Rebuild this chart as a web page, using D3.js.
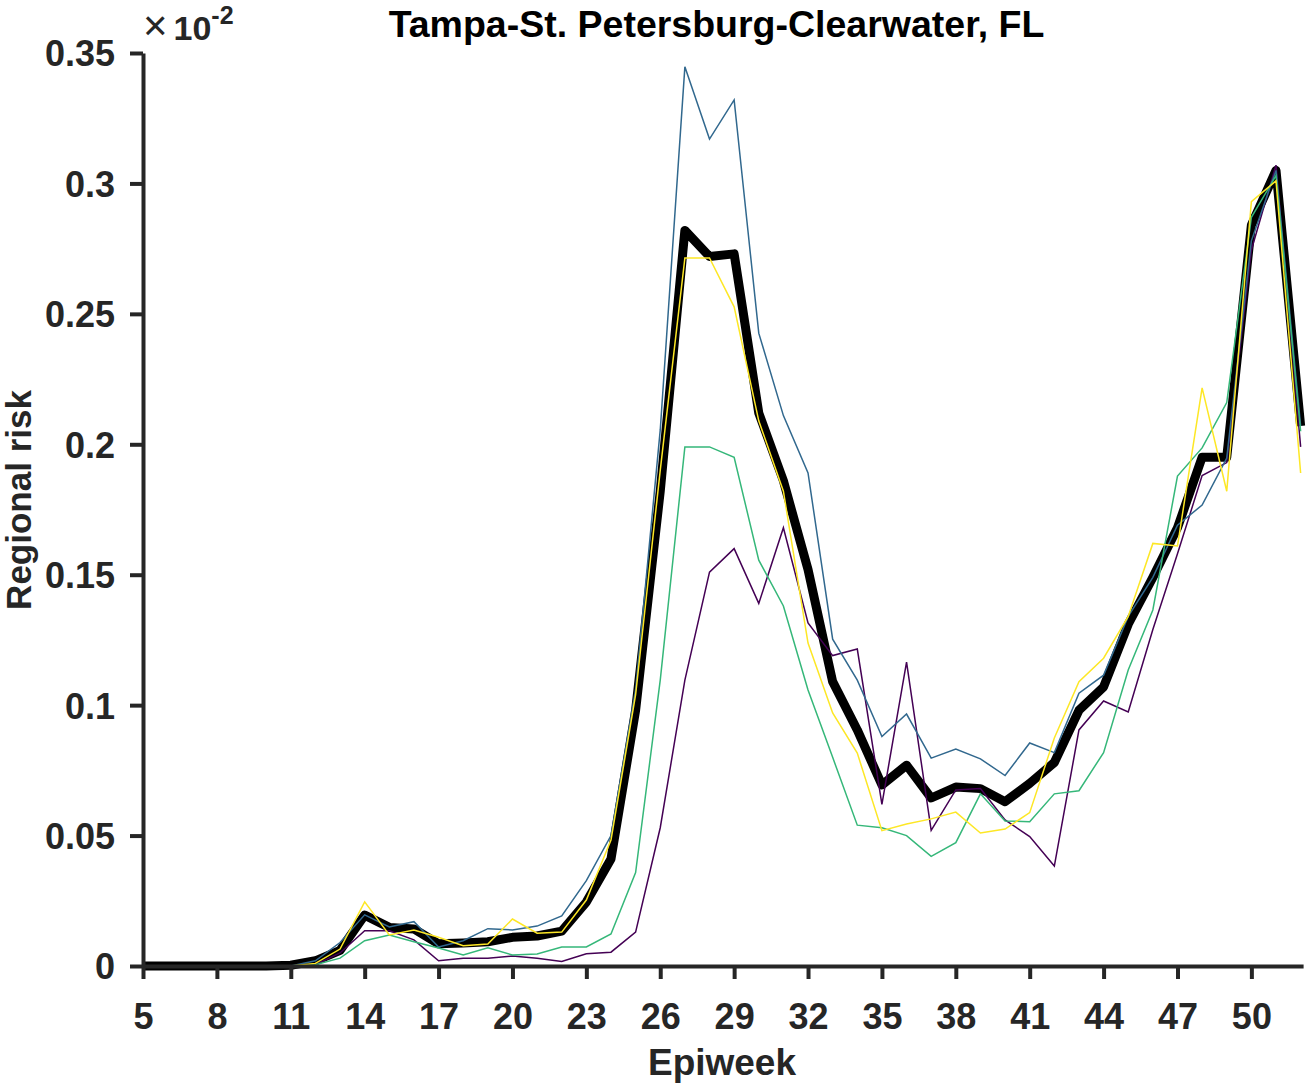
<!DOCTYPE html>
<html>
<head>
<meta charset="utf-8">
<script src="https://cdn.jsdelivr.net/npm/d3@7"></script>
<style>
  html, body { margin: 0; padding: 0; background: #fff; }
  svg { display: block; }
</style>
</head>
<body>
<svg id="chart" width="1307" height="1086"></svg>
<script>
// ---- data ----
const weeks = d3.range(5, 53); // epiweeks 5..52
const xTicks = [5, 8, 11, 14, 17, 20, 23, 26, 29, 32, 35, 38, 41, 44, 47, 50];
const yTicks = [0, 0.05, 0.1, 0.15, 0.2, 0.25, 0.3, 0.35];
const yTickLabels = ["0", "0.05", "0.1", "0.15", "0.2", "0.25", "0.3", "0.35"];

const seriesBlack = [0, 0, 0, 0, 0, 0, 0.0003, 0.002, 0.006, 0.0195, 0.0148, 0.0142, 0.0085, 0.0088, 0.0093, 0.011, 0.0115, 0.0134, 0.0245, 0.041, 0.098, 0.182, 0.282, 0.272, 0.273, 0.212, 0.186, 0.152, 0.109, 0.0905, 0.0694, 0.077, 0.0644, 0.0686, 0.068, 0.063, 0.070, 0.078, 0.098, 0.107, 0.131, 0.149, 0.168, 0.195, 0.195, 0.284, 0.305, 0.207];
const seriesPurple = [0, 0, 0, 0, 0, 0, 0, 0.0005, 0.005, 0.0135, 0.0135, 0.010, 0.002, 0.003, 0.003, 0.0038, 0.003, 0.0017, 0.0047, 0.0053, 0.013, 0.053, 0.1096, 0.151, 0.160, 0.139, 0.168, 0.1315, 0.119, 0.1215, 0.062, 0.1165, 0.052, 0.0675, 0.068, 0.056, 0.0496, 0.0383, 0.0905, 0.1016, 0.0974, 0.129, 0.158, 0.188, 0.193, 0.2745, 0.307, 0.199];
const seriesBlue = [0, 0, 0, 0, 0, 0, 0, 0.002, 0.009, 0.0196, 0.015, 0.017, 0.0073, 0.0097, 0.0143, 0.0138, 0.0153, 0.0192, 0.0327, 0.050, 0.106, 0.2055, 0.3447, 0.317, 0.332, 0.2426, 0.211, 0.189, 0.1253, 0.1096, 0.088, 0.0966, 0.0797, 0.0832, 0.0794, 0.073, 0.0855, 0.0818, 0.1046, 0.1115, 0.134, 0.149, 0.169, 0.1767, 0.1947, 0.278, 0.305, 0.207];
const seriesGreen = [0, 0, 0, 0, 0, 0, 0, 0.0005, 0.003, 0.0097, 0.0119, 0.0093, 0.0069, 0.0042, 0.007, 0.0042, 0.0046, 0.0073, 0.0073, 0.0123, 0.0358, 0.1096, 0.199, 0.199, 0.195, 0.1556, 0.138, 0.1058, 0.080, 0.054, 0.053, 0.050, 0.042, 0.0473, 0.066, 0.0556, 0.0553, 0.066, 0.0672, 0.0818, 0.1135, 0.1365, 0.1878, 0.1986, 0.216, 0.287, 0.303, 0.205];
const seriesYellow = [0, 0, 0, 0, 0, 0, 0, 0.001, 0.0065, 0.0246, 0.0119, 0.0138, 0.011, 0.0078, 0.0084, 0.018, 0.0126, 0.013, 0.0253, 0.0483, 0.104, 0.190, 0.2714, 0.2714, 0.2527, 0.209, 0.182, 0.1238, 0.097, 0.0816, 0.0519, 0.0544, 0.0564, 0.059, 0.051, 0.0525, 0.0588, 0.0874, 0.109, 0.118, 0.134, 0.162, 0.161, 0.2216, 0.182, 0.293, 0.301, 0.189];

const titleText = "Tampa-St. Petersburg-Clearwater, FL";
const xLabel = "Epiweek";
const yLabel = "Regional risk";

// ---- drawing ----
const svg = d3.select("#chart");
const font = "'Liberation Sans', Arial, Helvetica, sans-serif";
const axisColor = "#262626";

const x = d3.scaleLinear().domain([5, 52.1]).range([143, 1303.1]);
const y = d3.scaleLinear().domain([0, 0.35]).range([966, 53]);

const line = d3.line().x((d, i) => x(weeks[i])).y(d => y(d));

const plot = svg.append("g");
plot.append("path").datum(seriesBlack)
  .attr("d", line).attr("fill", "none").attr("stroke", "#000")
  .attr("stroke-width", 9).attr("stroke-linejoin", "round");

const thin = [
  [seriesPurple, "#440154"],
  [seriesBlue, "#31688e"],
  [seriesGreen, "#35b779"],
  [seriesYellow, "#fde725"]
];
thin.forEach(([s, c]) => {
  plot.append("path").datum(s)
    .attr("d", line).attr("fill", "none").attr("stroke", c)
    .attr("stroke-width", 1.5).attr("stroke-linejoin", "miter");
});

// axes
const xAxis = d3.axisBottom(x).tickValues(xTicks).tickSizeInner(13).tickSizeOuter(0).tickPadding(24);
const gx = svg.append("g").attr("transform", `translate(0,${y(0)})`).call(xAxis);
const yAxis = d3.axisLeft(y).tickValues(yTicks).tickFormat((d, i) => yTickLabels[i]).tickSizeInner(13).tickSizeOuter(0).tickPadding(15);
const gy = svg.append("g").attr("transform", `translate(${x(5)},0)`).call(yAxis);

[gx, gy].forEach(g => {
  g.select(".domain").attr("stroke", axisColor).attr("stroke-width", 4);
  g.selectAll(".tick line").attr("stroke", axisColor).attr("stroke-width", 4);
  g.selectAll(".tick text").attr("fill", axisColor)
    .style("font-family", font).style("font-size", "36px").style("font-weight", "bold");
});
gy.selectAll(".tick text").attr("dy", "0.36em");

// title
svg.append("text").attr("x", 716.5).attr("y", 37).attr("text-anchor", "middle")
  .style("font-family", font).style("font-size", "37.5px").style("font-weight", "bold")
  .attr("fill", "#000").text(titleText);

// axis labels
svg.append("text").attr("x", 722).attr("y", 1075).attr("text-anchor", "middle")
  .style("font-family", font).style("font-size", "37px").style("font-weight", "bold")
  .attr("fill", axisColor).text(xLabel);
svg.append("text").attr("transform", "translate(31,500) rotate(-90)").attr("text-anchor", "middle")
  .style("font-family", font).style("font-size", "35px").style("font-weight", "bold")
  .attr("fill", axisColor).text(yLabel);

// exponent label
const ex = svg.append("text").attr("x", 143).attr("y", 40)
  .style("font-family", font).attr("fill", axisColor);
ex.append("tspan").style("font-size", "42px").style("font-weight", "normal").text("\u00D7");
ex.append("tspan").style("font-size", "34px").style("font-weight", "bold").attr("dx", 6).text("10");
ex.append("tspan").style("font-size", "25px").style("font-weight", "bold").attr("dy", -16).text("-2");
</script>
</body>
</html>
